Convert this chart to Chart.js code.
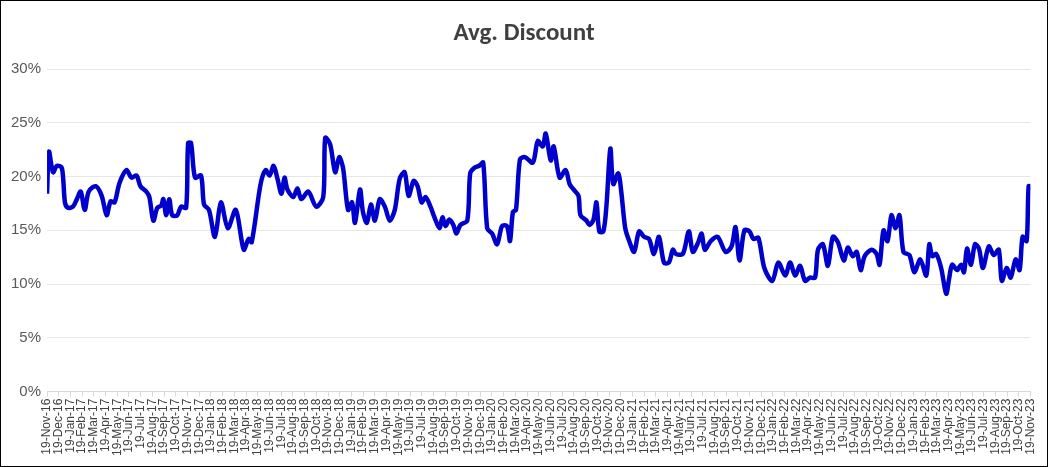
<!DOCTYPE html>
<html>
<head>
<meta charset="utf-8">
<script src="https://cdn.jsdelivr.net/npm/chart.js@4"></script>
<style>
  body { margin: 0; background: #fff; }
  #wrap { width: 1048px; height: 467px; box-sizing: border-box; border: 1px solid #000; }
</style>
</head>
<body>
<div id="wrap"><canvas id="grafico"></canvas></div>
<script>
// etiquetas mensuales 19-Nov-16 .. 19-Nov-23
const meses = ['Jan','Feb','Mar','Apr','May','Jun','Jul','Aug','Sep','Oct','Nov','Dec'];
const etiquetas = [];
for (let i = 0; i <= 84; i++) {
    const m = (10 + i) % 12;
    const a = 16 + Math.floor((10 + i) / 12);
    etiquetas.push('19-' + meses[m] + '-' + a);
}

// posicion en meses desde 19-Nov-16
const posMes = [0,0.17,0.51,0.85,1.27,1.53,1.78,2.21,2.55,2.88,3.22,3.56,4.16,4.67,5.09,5.43,5.77,6.19,6.79,7.21,7.64,7.98,8.48,8.74,9.08,9.42,9.76,9.93,10.18,10.44,10.69,11.12,11.45,11.88,12.05,12.3,12.64,13.15,13.41,13.83,14.34,14.85,15.44,16.12,16.8,17.22,17.48,18.24,18.67,19.01,19.35,19.68,20.02,20.28,20.53,21.04,21.38,
  21.72,22.31,22.99,23.59,23.76,24.18,24.61,24.95,25.28,25.71,26.05,26.3,26.73,26.98,27.32,27.66,28.0,28.42,28.85,29.27,29.7,30.12,30.54,30.88,31.31,31.65,31.99,32.33,32.75,33.09,33.51,33.77,34.03,34.36,34.7,34.96,35.3,35.89,36.14,36.48,36.91,37.25,37.59,38.01,38.44,38.86,39.28,39.54,39.79,40.05,40.39,40.81,41.49,41.91,42.34,42.59,
  43.02,43.27,43.78,44.29,44.63,44.97,45.39,45.56,46.07,46.33,46.67,46.92,47.17,47.51,47.77,48.11,48.36,48.79,49.04,49.38,49.72,50.14,50.56,50.99,51.41,51.84,52.26,52.69,53.11,53.45,53.71,54.3,54.81,55.15,55.58,55.91,56.17,56.68,57.27,57.95,58.46,58.8,59.14,59.56,59.99,60.33,60.75,61.26,61.94,62.45,63.04,
  63.46,63.89,64.31,64.74,65.16,65.59,65.84,66.26,66.69,67.11,67.54,68.05,68.39,68.81,69.15,69.49,69.83,70.42,70.85,71.1,71.44,71.78,72.12,72.46,72.8,73.14,73.65,74.07,74.58,75.09,75.35,75.6,75.94,76.36,76.79,77.04,77.3,77.72,78.06,78.31,78.57,78.91,79.25,79.59,79.93,80.43,80.86,81.28,81.54,81.96,82.3,82.72,83.06,83.32,83.66,83.83,84];

// descuento promedio (%)
const descuento = [18.4,22.3,20.4,21,20.8,17.6,17.1,17.2,17.9,18.6,16.9,18.6,19.1,18.2,16.4,17.7,17.6,19.4,20.6,19.9,20.1,19.1,18.6,18.1,15.9,17.1,17.3,17.9,16.4,17.9,16.4,16.4,17.2,17.1,23.1,23.1,19.9,20.1,17.4,16.9,14.4,17.6,15.2,16.9,13.2,14.2,13.9,19.3,20.6,20.1,21,19.8,18.4,19.9,18.8,18.1,18.9,
  17.9,18.6,17.2,18.1,23.6,23,20.4,21.8,20.8,16.9,17.6,15.7,18.8,16.7,15.7,17.4,15.9,17.9,17.2,15.9,16.9,19.8,20.4,18.2,19.6,19.1,17.6,18.1,17.2,16.2,15.2,16.2,15.4,16,15.5,14.7,15.5,15.9,20.3,20.8,21,21.3,15.2,14.7,13.7,15.4,15.4,14,16.7,16.9,21.6,21.8,21.3,23.3,22.8,24,
  21.5,22.8,19.9,20.6,19.3,18.8,18.2,16.4,15.9,15.5,16,17.6,14.9,14.9,17.2,22.6,19.3,20.3,18.6,15.2,14,13,14.9,14.4,14.2,12.8,14.4,12,12,13.2,12.8,12.8,14.9,13,13.8,14.7,13.2,14,14.4,13,13.5,15.3,12.2,15,14.9,14.2,14.3,11.5,10.3,12,10.8,
  12,10.8,11.7,10.3,10.6,10.6,13.2,13.7,11.7,14.4,13.9,12.2,13.4,12.6,13,11.3,12.6,13.2,12.8,11.8,15,14,16.4,15.2,16.4,13,12.7,11.1,12.3,10.8,13.7,12.6,12.8,11.5,9.1,10.5,11.8,11.3,11.8,11.1,13.3,11.8,13.7,13.3,11.5,13.5,12.7,13.2,10.3,11.5,10.6,12.3,11.3,14.4,14,19.1,19.1];

const puntos = posMes.map((x, i) => ({ x: x, y: descuento[i] }));

new Chart(document.getElementById('grafico'), {
    type: 'line',
    data: {
        datasets: [{
            data: puntos,
            borderColor: '#0000CC',
            borderWidth: 4.5,
            pointRadius: 0,
            tension: 0.3
        }]
    },
    options: {
        responsive: true,
        maintainAspectRatio: false,
        animation: false,
        layout: { padding: { left: 4, right: 4, top: 12, bottom: 8 } },
        plugins: {
            legend: { display: false },
            tooltip: { enabled: false },
            title: {
                display: true,
                text: 'Avg. Discount',
                color: '#404040',
                font: { family: 'Calibri, Carlito, "Open Sans", sans-serif', size: 25, weight: 'bold' },
                padding: { top: 6, bottom: 20 }
            }
        },
        scales: {
            x: {
                type: 'linear',
                min: 0,
                max: 84,
                offset: false,
                ticks: {
                    stepSize: 1,
                    autoSkip: false,
                    maxRotation: 90,
                    minRotation: 90,
                    color: '#404040',
                    font: { family: '"Liberation Sans", Arial, sans-serif', size: 12 },
                    padding: 2,
                    callback: v => etiquetas[v]
                },
                grid: { drawOnChartArea: false, tickLength: 5, color: '#d9d9d9' },
                border: { color: '#d9d9d9' }
            },
            y: {
                min: 0,
                max: 30,
                ticks: {
                    stepSize: 5,
                    color: '#595959',
                    font: { family: '"Liberation Sans", Arial, sans-serif', size: 15 },
                    padding: 6,
                    callback: v => v + '%'
                },
                grid: { color: '#e6e6e6', drawTicks: false },
                border: { display: false }
            }
        }
    }
});
</script>
</body>
</html>
